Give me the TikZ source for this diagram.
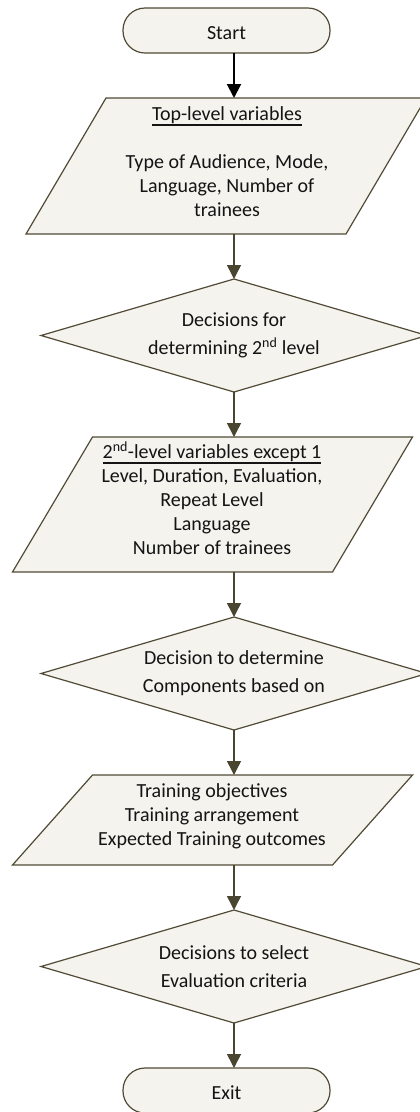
\documentclass[tikz,border=0pt]{standalone}
\usepackage{fontspec}
\setmainfont{Carlito}
\usetikzlibrary{shapes.geometric,arrows.meta}
\definecolor{edgec}{HTML}{514B36}
\definecolor{arrc}{HTML}{4A4530}
\definecolor{fillc}{HTML}{F4F3EE}
\definecolor{txtc}{HTML}{141414}
\newcommand\ulbox[1]{\setbox0\hbox{#1}\leavevmode\rlap{\rule[-5pt]{\wd0}{1.6pt}}\box0}
\begin{document}
\begin{tikzpicture}[x=1pt,y=-1pt,
  terminal/.style={draw=edgec, fill=fillc, line width=1.2pt, rounded corners=22pt,
    minimum width=207pt, minimum height=45pt, inner sep=0pt, outer sep=0pt,
    text height=18pt, text depth=0pt, font=\fontsize{20}{24}\selectfont, text=txtc},
  decision/.style={diamond, draw=edgec, fill=fillc, line width=1.2pt,
    minimum width=386pt, minimum height=113pt, inner sep=0pt, outer sep=0pt,
    shape aspect=3.4, align=center, font=\fontsize{20}{28}\selectfont, text=txtc},
  ioframe/.style={rectangle, minimum width=320pt, inner sep=0pt, outer sep=0pt},
  iobox/.style={draw=edgec, fill=fillc, line width=1.2pt},
  iotext/.style={align=center, font=\fontsize{20}{24}\selectfont, text=txtc, inner sep=0pt},
  flow/.style={draw=arrc, line width=1.5pt, -{Triangle[width=14pt,length=14pt]}},
  firstflow/.style={draw=black, line width=2pt, -{Triangle[width=14pt,length=14pt]}}]

\useasboundingbox (0,0) rectangle (420,1112);
\clip (0,0) rectangle (420,1112);

% terminals and decisions
\node[terminal] (start) at (226.5,30.5) {Start};
\node[decision] (d1) at (234,335.5) {Decisions for\\determining 2\textsuperscript{nd} level};
\node[decision] (d2) at (234,673.5) {Decision to determine\\Components based on};
\node[decision] (d3) at (234,966.5) {Decisions to select\\Evaluation criteria};
\node[terminal] (exit) at (226.5,1090.5) {Exit};

% input/output parallelograms
\node[ioframe, minimum height=136pt] (io1) at (226,166) {};
\draw[iobox] ([xshift=40pt]io1.north west) -- ([xshift=40pt]io1.north east)
  -- ([xshift=-40pt]io1.south east) -- ([xshift=-40pt]io1.south west) -- cycle;
\node[iotext] (io1t) at (227,162) {\ulbox{Top-level variables}\\[24pt]Type of Audience, Mode,\\Language, Number of\\trainees};

\node[ioframe, minimum height=135pt] (io2) at (212.5,504.5) {};
\draw[iobox] ([xshift=40pt]io2.north west) -- ([xshift=40pt]io2.north east)
  -- ([xshift=-40pt]io2.south east) -- ([xshift=-40pt]io2.south west) -- cycle;
\node[iotext] (io2t) at (212,498) {\ulbox{2\textsuperscript{nd}-level variables except 1}\\Level, Duration, Evaluation,\\Repeat Level\\Language\\Number of trainees};

\node[ioframe, minimum height=90pt] (io3) at (212.5,820) {};
\draw[iobox] ([xshift=40pt]io3.north west) -- ([xshift=40pt]io3.north east)
  -- ([xshift=-40pt]io3.south east) -- ([xshift=-40pt]io3.south west) -- cycle;
\node[iotext] (io3t) at (212,816) {Training objectives\\Training arrangement\\Expected Training outcomes};

% connectors
\draw[firstflow] (start.south -| d1.north) -- (io1.north -| d1.north);
\draw[flow] (io1.south -| d1.north) -- (d1.north);
\draw[flow] (d1.south) -- (io2.north -| d1.south);
\draw[flow] (io2.south -| d2.north) -- (d2.north);
\draw[flow] (d2.south) -- (io3.north -| d2.south);
\draw[flow] (io3.south -| d3.north) -- (d3.north);
\draw[flow] (d3.south) -- (exit.north -| d3.south);
\end{tikzpicture}
\end{document}
